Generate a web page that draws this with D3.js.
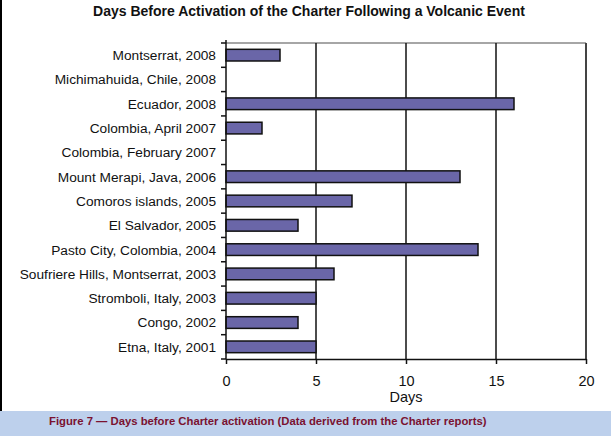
<!DOCTYPE html>
<html><head><meta charset="utf-8">
<script src="https://cdn.jsdelivr.net/npm/d3@7/dist/d3.min.js"></script>
<style>body{margin:0;background:#fff;}svg{display:block;font-family:"Liberation Sans",Arial,sans-serif;}</style>
</head><body>
<svg id="c" width="611" height="436"></svg>
<script>
const categories = ["Montserrat, 2008","Michimahuida, Chile, 2008","Ecuador, 2008","Colombia, April 2007","Colombia, February 2007","Mount Merapi, Java, 2006","Comoros islands, 2005","El Salvador, 2005","Pasto City, Colombia, 2004","Soufriere Hills, Montserrat, 2003","Stromboli, Italy, 2003","Congo, 2002","Etna, Italy, 2001"];
const days = [3,0,16,2,0,13,7,4,14,6,5,4,5];
const xTicks = [0,5,10,15,20];
const title = "Days Before Activation of the Charter Following a Volcanic Event";
const xTitle = "Days";
const caption = "Figure 7 \u2014 Days before Charter activation (Data derived from the Charter reports)";

const svg = d3.select("#c");
const L = 226, R = 586, T = 43, B = 359;
const x = d3.scaleLinear().domain([0,20]).range([L,R]);
const y = d3.scaleBand().domain(categories).range([T,B]).paddingInner(0.52).paddingOuter(0.26);

// caption band
svg.append("rect").attr("x",0).attr("y",411).attr("width",611).attr("height",25).attr("fill","#bdd0ec");
svg.append("text").attr("x",49).attr("y",425).attr("font-size",11.3).attr("font-weight","bold").attr("fill","#7a1230").text(caption);
// left border line
svg.append("rect").attr("x",0).attr("y",0).attr("width",2).attr("height",411).attr("fill","#000");

// title
svg.append("text").attr("x",309).attr("y",16).attr("text-anchor","middle").attr("font-size",14).attr("font-weight","bold").attr("fill","#111").text(title);

// frame top/right
svg.append("line").attr("x1",L).attr("x2",R).attr("y1",T).attr("y2",T).attr("stroke","#888").attr("stroke-width",1.5);
svg.append("line").attr("x1",R).attr("x2",R).attr("y1",T).attr("y2",B).attr("stroke","#444").attr("stroke-width",2);
// gridlines
svg.selectAll(".g").data(xTicks.slice(1,-1)).enter().append("line")
  .attr("x1",d=>x(d)).attr("x2",d=>x(d)).attr("y1",T).attr("y2",B).attr("stroke","#111").attr("stroke-width",1.5);

// bars
svg.selectAll(".bar").data(categories.map((c,i)=>({c,v:days[i]})).filter(d=>d.v>0)).enter().append("rect")
  .attr("x",x(0)).attr("y",d=>y(d.c)).attr("width",d=>x(d.v)-x(0)).attr("height",y.bandwidth())
  .attr("fill","#6a66a8").attr("stroke","#111").attr("stroke-width",1.5);

// x axis
const xa = svg.append("g").attr("transform",`translate(0,${B})`)
  .call(d3.axisBottom(x).tickValues(xTicks).tickSize(5).tickPadding(12).tickSizeOuter(0));
xa.select(".domain").attr("stroke","#111").attr("stroke-width",1.5);
xa.selectAll(".tick line").attr("stroke","#111").attr("stroke-width",1.5);
xa.selectAll("text").attr("font-size",14.5).attr("fill","#111").attr("font-family","Liberation Sans, Arial, sans-serif");

// y axis with ticks at band boundaries
const yb = d3.range(categories.length+1).map(i=>T + i*(B-T)/categories.length);
svg.append("line").attr("x1",L).attr("x2",L).attr("y1",T-3).attr("y2",B).attr("stroke","#111").attr("stroke-width",1.5);
svg.selectAll(".yt").data(yb).enter().append("line").attr("x1",L-5).attr("x2",L).attr("y1",d=>d).attr("y2",d=>d).attr("stroke","#111").attr("stroke-width",1.5);
svg.selectAll(".yl").data(categories).enter().append("text")
  .attr("x",216).attr("y",d=>y(d)+y.bandwidth()/2).attr("dy","0.36em").attr("text-anchor","end")
  .attr("font-size",13.7).attr("fill","#111").text(d=>d);

svg.append("text").attr("x",(L+R)/2).attr("y",402).attr("text-anchor","middle").attr("font-size",14.5).attr("fill","#111").text(xTitle);
</script>
</body></html>
